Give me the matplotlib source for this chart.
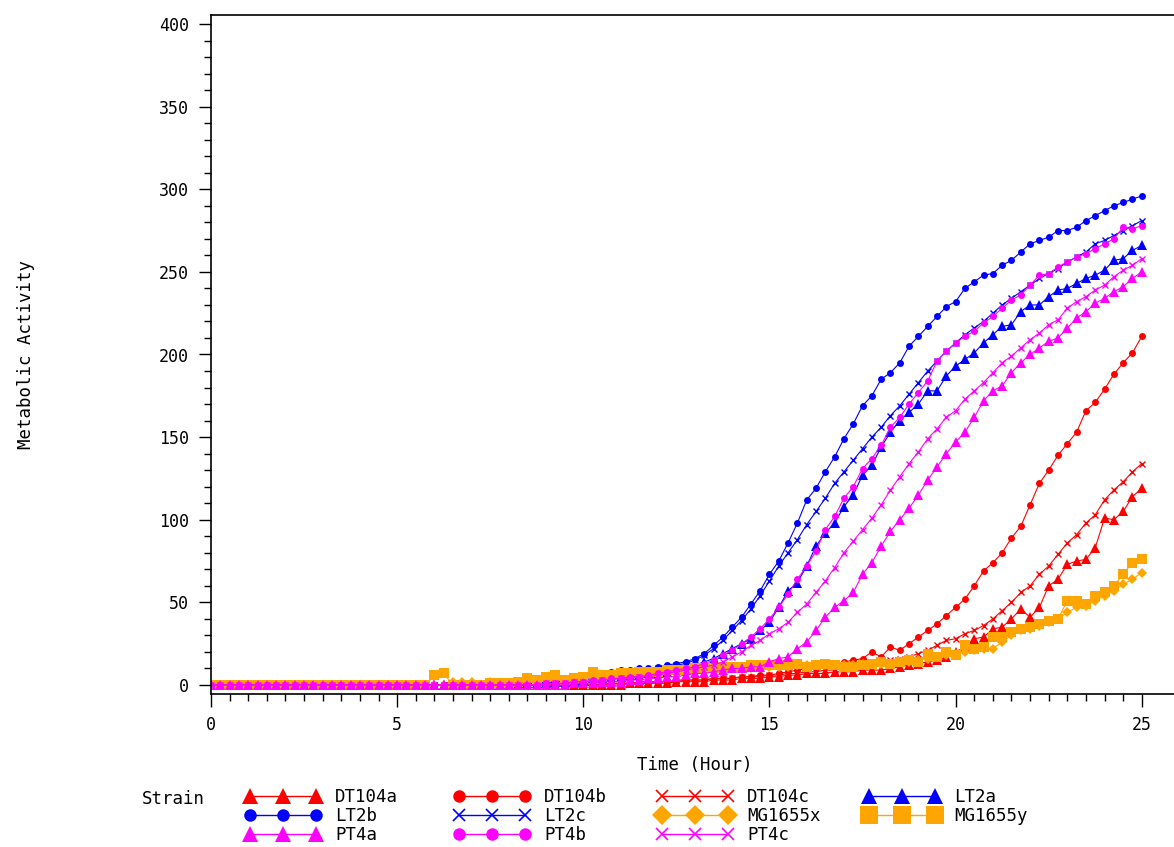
import numpy as np
import matplotlib.pyplot as plt
from matplotlib.lines import Line2D
from matplotlib.ticker import FixedLocator

# readings every 15 minutes, 0 h .. 25 h
hours = np.linspace(0, 25, 101)

dt104a = [0, 0, 0, 0, 0, 0, 0, 0, 0, 0, 0, 0, 0, 0, 0, 0, 0, 0, 0, 0,
          0, 0, 0, 0, 0, 0, 0, 0, 0, 0, 0, 0, 0, 0, 0, 0, 0, 0, 0, 0,
          0, 0, 0, 0, 0, 1, 1, 1, 1, 1, 2, 2, 2, 2, 3, 3, 3, 4, 4, 4,
          5, 5, 6, 6, 7, 7, 7, 8, 8, 8, 9, 9, 9, 10, 11, 12, 13, 14, 15, 17,
          20, 23, 28, 29, 34, 35, 40, 46, 41, 47, 60, 64, 73, 75, 76, 83, 101, 100, 105, 114,
          119]
dt104b = [0, 0, 0, 0, 0, 0, 0, 0, 0, 0, 0, 0, 0, 0, 0, 0, 0, 0, 0, 0,
          0, 0, 0, 0, 0, 0, 0, 0, 0, 0, 0, 0, 0, 0, 0, 0, 0, 0, 0, 0,
          0, 0, 0, 1, 1, 1, 1, 1, 2, 2, 2, 3, 3, 3, 4, 4, 4, 5, 5, 6,
          6, 7, 8, 9, 10, 11, 12, 13, 14, 15, 16, 20, 17, 23, 21, 25, 29, 33, 37, 42,
          47, 52, 60, 69, 74, 80, 89, 96, 109, 122, 130, 139, 146, 153, 166, 171, 179, 188, 195, 201,
          211]
dt104c = [0, 0, 0, 0, 0, 0, 0, 0, 0, 0, 0, 0, 0, 0, 0, 0, 0, 0, 0, 0,
          0, 0, 0, 0, 0, 0, 0, 0, 0, 0, 0, 0, 0, 0, 0, 0, 0, 0, 0, 0,
          0, 0, 1, 1, 1, 1, 2, 2, 2, 2, 3, 3, 3, 3, 4, 4, 4, 5, 5, 5,
          6, 6, 7, 7, 8, 8, 9, 9, 10, 11, 12, 13, 14, 15, 16, 17, 19, 21, 24, 27,
          28, 31, 33, 36, 40, 45, 50, 56, 60, 67, 72, 79, 86, 91, 98, 103, 112, 118, 123, 129,
          134]
lt2a = [0, 0, 0, 0, 0, 0, 0, 0, 0, 0, 0, 0, 0, 0, 0, 0, 0, 0, 0, 0,
        0, 0, 0, 0, 0, 0, 0, 0, 0, 0, 0, 0, 0, 0, 1, 1, 1, 2, 2, 2,
        3, 4, 4, 5, 5, 6, 6, 7, 7, 8, 9, 10, 12, 14, 16, 19, 22, 25, 28, 33,
        38, 47, 57, 62, 72, 84, 92, 98, 108, 115, 127, 133, 144, 153, 160, 165, 170, 178, 178, 187,
        193, 197, 201, 207, 212, 217, 218, 226, 230, 230, 235, 239, 240, 243, 246, 248, 251, 257, 258, 263,
        266]
lt2b = [0, 0, 0, 0, 0, 0, 0, 0, 0, 0, 0, 0, 0, 0, 0, 0, 0, 0, 0, 0,
        0, 0, 0, 0, 0, 0, 0, 0, 0, 0, 0, 0, 0, 0, 1, 1, 2, 2, 3, 4,
        5, 6, 7, 8, 9, 9, 10, 10, 11, 12, 13, 14, 16, 19, 24, 29, 35, 41, 49, 57,
        67, 75, 86, 98, 112, 119, 129, 138, 149, 158, 169, 175, 185, 189, 195, 205, 211, 217, 223, 229,
        232, 240, 244, 248, 249, 254, 257, 262, 267, 269, 271, 275, 275, 277, 281, 284, 287, 290, 292, 294,
        296]
lt2c = [0, 0, 0, 0, 0, 0, 0, 0, 0, 0, 0, 0, 0, 0, 0, 0, 0, 0, 0, 0,
        0, 0, 0, 0, 0, 0, 0, 0, 0, 0, 0, 0, 0, 0, 1, 1, 1, 2, 2, 3,
        4, 5, 6, 7, 8, 8, 9, 9, 10, 11, 12, 13, 15, 18, 22, 27, 33, 39, 46, 54,
        63, 72, 80, 88, 97, 105, 113, 122, 129, 136, 143, 150, 156, 163, 169, 176, 183, 190, 196, 202,
        207, 212, 216, 220, 225, 230, 234, 238, 242, 246, 249, 252, 256, 259, 262, 267, 269, 272, 275, 278,
        281]
mg1655x = [0, 0, 0, 0, 0, 0, 0, 0, 0, 0, 0, 0, 0, 0, 0, 0, 0, 0, 0, 0,
           0, 0, 0, 0, 0, 0, 2, 2, 2, 0, 2, 0, 1, 1, 2, 2, 3, 3, 3, 4,
           4, 5, 5, 5, 6, 6, 6, 7, 7, 7, 8, 8, 8, 9, 9, 9, 10, 10, 10, 11,
           11, 11, 11, 12, 12, 12, 12, 12, 12, 12, 13, 13, 13, 13, 14, 14, 15, 16, 17, 18,
           19, 20, 21, 22, 22, 26, 30, 33, 34, 36, 38, 40, 44, 47, 48, 51, 54, 57, 61, 64,
           68]
mg1655y = [0, 0, 0, 0, 0, 0, 0, 0, 0, 0, 0, 0, 0, 0, 0, 0, 0, 0, 0, 0,
           0, 0, 0, 0, 6, 7, 0, 0, 0, 0, 1, 1, 1, 2, 4, 3, 5, 6, 3, 4,
           5, 8, 6, 6, 7, 7, 8, 8, 8, 9, 9, 9, 10, 10, 10, 11, 11, 11, 12, 12,
           12, 12, 12, 13, 11, 12, 13, 12, 11, 11, 12, 13, 14, 13, 14, 15, 14, 19, 17, 20,
           18, 24, 22, 23, 29, 29, 32, 34, 35, 37, 39, 40, 51, 51, 49, 54, 56, 60, 67, 74,
           76]
pt4a = [0, 0, 0, 0, 0, 0, 0, 0, 0, 0, 0, 0, 0, 0, 0, 0, 0, 0, 0, 0,
        0, 0, 0, 0, 0, 0, 0, 0, 0, 0, 0, 0, 0, 0, 0, 0, 0, 0, 0, 1,
        1, 1, 2, 2, 2, 3, 3, 4, 4, 5, 5, 6, 7, 7, 8, 9, 10, 10, 11, 11,
        14, 16, 17, 22, 26, 33, 41, 47, 51, 56, 67, 74, 84, 93, 100, 107, 115, 124, 132, 140,
        147, 153, 162, 172, 178, 181, 189, 195, 200, 204, 208, 210, 216, 222, 226, 231, 234, 238, 241, 246,
        250]
pt4b = [0, 0, 0, 0, 0, 0, 0, 0, 0, 0, 0, 0, 0, 0, 0, 0, 0, 0, 0, 0,
        0, 0, 0, 0, 0, 0, 0, 0, 0, 0, 0, 0, 0, 0, 0, 0, 1, 1, 1, 2,
        2, 3, 3, 4, 4, 5, 5, 6, 7, 8, 9, 10, 11, 13, 15, 18, 21, 25, 29, 34,
        40, 47, 55, 64, 72, 81, 94, 102, 113, 120, 131, 137, 145, 156, 162, 170, 177, 184, 196, 202,
        207, 211, 214, 219, 223, 228, 233, 236, 242, 248, 249, 253, 256, 259, 261, 264, 267, 270, 277, 276,
        278]
pt4c = [0, 0, 0, 0, 0, 0, 0, 0, 0, 0, 0, 0, 0, 0, 0, 0, 0, 0, 0, 0,
        0, 0, 0, 0, 0, 0, 0, 0, 0, 0, 0, 0, 0, 0, 0, 0, 1, 1, 1, 2,
        2, 2, 3, 3, 4, 4, 5, 5, 6, 7, 8, 9, 10, 11, 12, 14, 17, 20, 24, 27,
        31, 34, 38, 44, 49, 56, 63, 71, 80, 87, 94, 101, 109, 118, 126, 134, 141, 149, 155, 162,
        166, 173, 178, 183, 189, 195, 199, 204, 209, 213, 218, 221, 228, 232, 235, 239, 242, 247, 251, 254,
        258]

RED = '#ff0000'
BLUE = '#0000ff'
ORANGE = '#ffa500'
MAGENTA = '#ff00ff'

# name, values, colour, marker, plot size, legend size
strains = [
    ('DT104a', dt104a, RED, '^', 7.5, 12),
    ('DT104b', dt104b, RED, 'o', 5, 9),
    ('DT104c', dt104c, RED, 'x', 5, 8),
    ('LT2a', lt2a, BLUE, '^', 7.5, 12),
    ('LT2b', lt2b, BLUE, 'o', 5, 9),
    ('LT2c', lt2c, BLUE, 'x', 5, 8),
    ('MG1655x', mg1655x, ORANGE, 'D', 5, 10),
    ('MG1655y', mg1655y, ORANGE, 's', 7, 13),
    ('PT4a', pt4a, MAGENTA, '^', 7.5, 12),
    ('PT4b', pt4b, MAGENTA, 'o', 5, 9),
    ('PT4c', pt4c, MAGENTA, 'x', 5, 8),
]

plt.rcParams['font.family'] = ['DejaVu Sans Mono']

W, H = 1174, 847
fig = plt.figure(figsize=(W / 100, H / 100), dpi=100)
ax = fig.add_axes([211 / W, 153 / H, (1179 - 211) / W, (694 - 15) / H])

handles = {}
for name, vals, col, mk, ms, lms in strains:
    ax.plot(hours, vals, color=col, lw=0.8, marker=mk, ms=ms,
            mew=1.0 if mk == 'x' else 0, mec=col, mfc=col)
    handles[name] = Line2D([], [], color=col, lw=1.0, marker=mk, ms=lms,
                           mew=1.2 if mk == 'x' else 0, mec=col, mfc=col)

ax.set_xlim(0, 26)
ax.set_ylim(-5.45, 405.45)
ax.xaxis.set_major_locator(FixedLocator([0, 5, 10, 15, 20, 25]))
ax.xaxis.set_minor_locator(FixedLocator(np.arange(0, 25.01, 0.5)))
ax.yaxis.set_major_locator(FixedLocator(np.arange(0, 401, 50)))
ax.yaxis.set_minor_locator(FixedLocator(np.arange(0, 401, 10)))
ax.tick_params(which='major', length=9, width=1.0, labelsize=12, pad=7)
ax.tick_params(which='minor', length=5, width=1.0)
ax.spines['right'].set_visible(False)
for s in ['left', 'bottom', 'top']:
    ax.spines[s].set_linewidth(1.2)

ax.set_xlabel('Time (Hour)', fontsize=12.5, labelpad=16)
ax.set_ylabel('Metabolic Activity', fontsize=12.5, labelpad=0)
ax.yaxis.set_label_coords(-0.182, 0.5)

fig.text(142 / W, 1 - 799 / H, 'Strain', fontsize=12.5, va='center', ha='left')

columns = [['DT104a', 'LT2b', 'PT4a'],
           ['DT104b', 'LT2c', 'PT4b'],
           ['DT104c', 'MG1655x', 'PT4c'],
           ['LT2a', 'MG1655y']]
col_x = [245, 454, 657, 864]
for names, x0 in zip(columns, col_x):
    fig.legend([handles[n] for n in names], names, loc='upper left',
               bbox_to_anchor=(x0 / W, 1 - 788 / H), frameon=False,
               numpoints=3, handlelength=4.4, handletextpad=0.8,
               labelspacing=0.05, borderpad=0, borderaxespad=0,
               fontsize=12.5)

fig.savefig('out.png', dpi=100)
